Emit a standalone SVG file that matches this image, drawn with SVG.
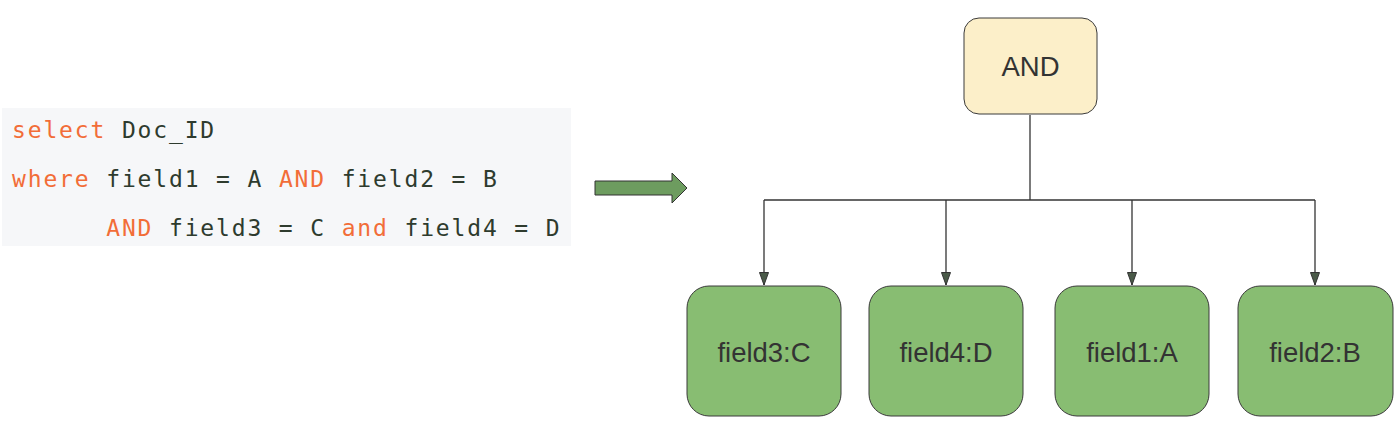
<svg xmlns="http://www.w3.org/2000/svg" width="1400" height="423" viewBox="0 0 1400 423">
<style>
.code{font-family:"DejaVu Sans Mono","Liberation Mono",monospace;font-size:23px;letter-spacing:1.85px}
.kw{fill:#f26d38}
.id{fill:#2e3b2e}
.lbl{font-family:"Liberation Sans",Arial,sans-serif;font-size:27.5px;fill:#333333;text-anchor:middle}
.leaf{fill:#88bd72;stroke:#3a3a3a;stroke-width:1}
.conn{fill:none;stroke:#333333;stroke-width:1.3}
</style>
<defs>
<marker id="ah" markerWidth="14" markerHeight="12" refX="13" refY="5" orient="auto" markerUnits="userSpaceOnUse" viewBox="0 0 14 10">
<path d="M0.5,0.5 L13,5 L0.5,9.5 Z" fill="#4a5a48" stroke="#333333" stroke-width="1"/>
</marker>
</defs>
<g id="code">
<rect x="2" y="108" width="569" height="138" fill="#f6f7f9"/>
<text class="code" x="12" y="138"><tspan class="kw">select</tspan><tspan class="id"> Doc_ID</tspan></text>
<text class="code" x="12" y="187"><tspan class="kw">where</tspan><tspan class="id"> field1 = A </tspan><tspan class="kw">AND</tspan><tspan class="id"> field2 = B</tspan></text>
<text class="code" x="12" y="236" xml:space="preserve"><tspan class="id">      </tspan><tspan class="kw">AND</tspan><tspan class="id"> field3 = C </tspan><tspan class="kw">and</tspan><tspan class="id"> field4 = D</tspan></text>
</g>
<g id="big-arrow">
<path d="M595,181 L672,181 L672,173 L687,188 L672,203 L672,195 L595,195 Z" fill="#6d9c5f" stroke="#333333" stroke-width="1"/>
</g>
<g id="connectors">
<path class="conn" d="M1030,115 L1030,200"/>
<path class="conn" d="M764,200 L1315,200"/>
<path class="conn" d="M764,200 L764,285" marker-end="url(#ah)"/>
<path class="conn" d="M946,200 L946,285" marker-end="url(#ah)"/>
<path class="conn" d="M1132,200 L1132,285" marker-end="url(#ah)"/>
<path class="conn" d="M1315,200 L1315,285" marker-end="url(#ah)"/>
</g>
<g id="node-and">
<rect x="964" y="18" width="133" height="96" rx="15" ry="15" fill="#fcefc9" stroke="#3a3a3a" stroke-width="1"/>
<text class="lbl" x="1030.5" y="76">AND</text>
</g>
<g id="node-field3">
<rect class="leaf" x="687" y="286" width="154" height="130" rx="22" ry="22"/>
<text class="lbl" x="764" y="362">field3:C</text>
</g>
<g id="node-field4">
<rect class="leaf" x="869" y="286" width="154" height="130" rx="22" ry="22"/>
<text class="lbl" x="946" y="362">field4:D</text>
</g>
<g id="node-field1">
<rect class="leaf" x="1055" y="286" width="154" height="130" rx="22" ry="22"/>
<text class="lbl" x="1132" y="362">field1:A</text>
</g>
<g id="node-field2">
<rect class="leaf" x="1238" y="286" width="155" height="130" rx="22" ry="22"/>
<text class="lbl" x="1315" y="362">field2:B</text>
</g>
</svg>
